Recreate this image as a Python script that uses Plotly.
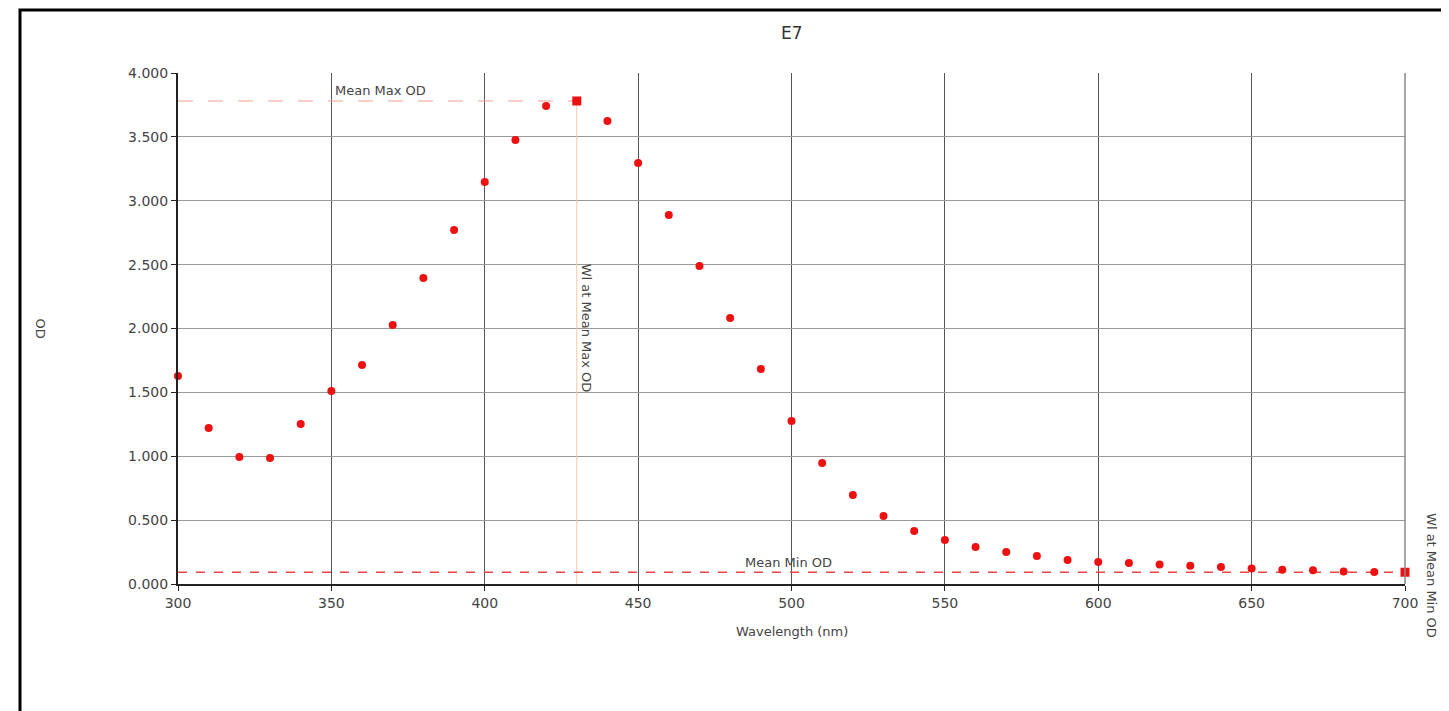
import plotly.graph_objects as go

wavelength = list(range(300, 701, 10))
od = [1.628, 1.221, 0.994, 0.986, 1.252, 1.511, 1.714, 2.027, 2.395, 2.771,
      3.147, 3.476, 3.742, 3.781, 3.624, 3.296, 2.888, 2.489, 2.082, 1.683,
      1.276, 0.947, 0.697, 0.532, 0.415, 0.344, 0.290, 0.250, 0.219, 0.188,
      0.172, 0.164, 0.152, 0.143, 0.133, 0.122, 0.112, 0.108, 0.098, 0.094, 0.094]
mean_max_od = 3.781
wl_at_max = 430
mean_min_od = 0.092
wl_at_min = 700
y_ticks = [0, 0.5, 1.0, 1.5, 2.0, 2.5, 3.0, 3.5, 4.0]
x_ticks = [300, 350, 400, 450, 500, 550, 600, 650, 700]

font_family = "DejaVu Sans"
txt_color = "#444"

fig = go.Figure()
fig.add_trace(go.Scatter(x=[300, wl_at_max], y=[mean_max_od, mean_max_od], mode="lines",
                         line=dict(color="#f0a090", width=1, dash="longdash"), hoverinfo="skip"))
fig.add_trace(go.Scatter(x=[wl_at_max, wl_at_max], y=[0, mean_max_od], mode="lines",
                         line=dict(color="#f5c8a0", width=1), hoverinfo="skip"))
fig.add_trace(go.Scatter(x=[300, 700], y=[mean_min_od, mean_min_od], mode="lines",
                         line=dict(color="#ee4444", width=1.5, dash="dash"), hoverinfo="skip"))
fig.add_trace(go.Scatter(x=wavelength, y=od, mode="markers",
                         marker=dict(color="#ee1111", size=8, symbol="circle"), cliponaxis=False))
fig.add_trace(go.Scatter(x=[wl_at_max, wl_at_min], y=[mean_max_od, mean_min_od], mode="markers",
                         marker=dict(color="#ee1111", size=9, symbol="square"), cliponaxis=False))

annots = [
    dict(x=366, y=3.86, text="Mean Max OD", showarrow=False, xref="x", yref="y",
         font=dict(size=13, color=txt_color, family=font_family)),
    dict(x=499, y=0.165, text="Mean Min OD", showarrow=False, xref="x", yref="y",
         font=dict(size=13, color=txt_color, family=font_family)),
    dict(x=wl_at_max, xshift=10, y=2.0, text="Wl at Mean Max OD", showarrow=False, xref="x", yref="y",
         textangle=90, font=dict(size=13, color=txt_color, family=font_family)),
    dict(x=wl_at_min, xshift=27, y=0.07, text="Wl at Mean Min OD", showarrow=False, xref="x", yref="y",
         textangle=90, font=dict(size=13, color=txt_color, family=font_family)),
    dict(x=0.5, y=1.0, xref="paper", yref="paper", yshift=40, yanchor="middle", text="E7",
         showarrow=False, font=dict(size=17, color="#333", family=font_family)),
    dict(x=0.5, y=0, xref="paper", yref="paper", yshift=-47, yanchor="middle", text="Wavelength (nm)",
         showarrow=False, font=dict(size=13, color=txt_color, family=font_family)),
    dict(x=0, y=0.5, xref="paper", yref="paper", xshift=-138, xanchor="center", text="OD",
         showarrow=False, textangle=90, font=dict(size=13, color=txt_color, family=font_family)),
]

# page has an 8px body margin; plot area should sit at page x 178..1405, y 73..584
fig.update_layout(
    width=1449, height=711,
    margin=dict(l=170, r=52, t=65, b=135),
    paper_bgcolor="white", plot_bgcolor="white",
    showlegend=False,
    annotations=annots,
    shapes=[dict(type="rect", xref="paper", yref="paper",
                 x0=(20 - 178) / 1227, x1=(1455 - 178) / 1227,
                 y0=(584 - 720) / 511, y1=(584 - 10) / 511,
                 line=dict(color="black", width=3), layer="below")],
    xaxis=dict(range=[300, 700], tickvals=x_ticks, ticktext=[str(v) for v in x_ticks],
               showgrid=True, gridcolor="#555", gridwidth=1.2,
               showline=True, linecolor="#222", linewidth=2,
               ticks="outside", ticklen=5, tickcolor="#222", zeroline=False,
               tickfont=dict(size=14, color=txt_color, family=font_family)),
    yaxis=dict(range=[0, 4], tickvals=y_ticks, ticktext=[f"{v:.3f}" for v in y_ticks],
               showgrid=True, gridcolor="#999", gridwidth=1,
               showline=True, linecolor="#222", linewidth=2,
               ticks="outside", ticklen=5, tickcolor="#222", zeroline=False,
               tickfont=dict(size=14, color=txt_color, family=font_family)),
)
fig.add_shape(type="line", xref="paper", yref="paper", x0=1, x1=1, y0=0, y1=1,
              line=dict(color="#888", width=1.5))
fig.write_html("out.html")
